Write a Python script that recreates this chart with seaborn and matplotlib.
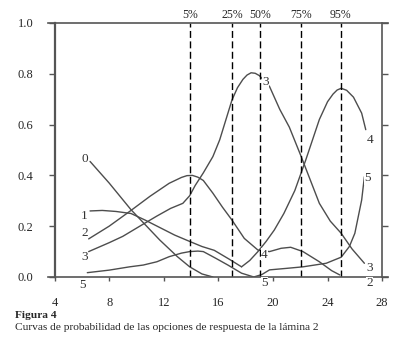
import matplotlib
matplotlib.use("Agg")
import matplotlib.pyplot as plt
import seaborn as sns
import pandas as pd

# curves (score vs. probability)
x0 = [6.6, 8.0, 9.6, 11.7, 13.0, 13.9, 14.8, 15.6]
y0 = [0.455, 0.37, 0.265, 0.146, 0.08, 0.04, 0.012, 0.0]

x1 = [6.6, 7.5, 8.5, 9.6, 10.6, 11.7, 12.8, 13.9, 14.8, 15.7, 16.8, 17.7]
y1 = [0.26, 0.262, 0.258, 0.25, 0.225, 0.195, 0.165, 0.14, 0.12, 0.105, 0.07, 0.04]

x2 = [6.5, 8.0, 9.6, 11.0, 12.4, 13.3, 13.7, 14.1, 14.5, 14.9, 15.6, 16.3,
      17.0, 17.9, 18.9, 19.75, 20.6, 21.3, 22.2, 23.4, 24.3, 24.9]
y2 = [0.15, 0.2, 0.262, 0.318, 0.369, 0.392, 0.399, 0.40, 0.393, 0.38, 0.33,
      0.275, 0.224, 0.152, 0.106, 0.1, 0.113, 0.117, 0.1, 0.06, 0.025, 0.008]

x3 = [6.5, 8.0, 9.0, 10.4, 11.5, 12.5, 13.4, 13.9, 14.3, 14.9, 15.6, 16.1,
      17.0, 17.4, 17.8, 18.1, 18.4, 18.7, 19.0, 19.75, 20.5, 21.2, 22.07,
      23.4, 24.2, 25.0, 25.8, 26.7]
y3 = [0.10, 0.135, 0.16, 0.205, 0.24, 0.27, 0.29, 0.32, 0.36, 0.41, 0.474,
      0.54, 0.697, 0.745, 0.778, 0.795, 0.804, 0.802, 0.793, 0.75, 0.66, 0.59,
      0.474, 0.29, 0.22, 0.172, 0.11, 0.054]

x4 = [17.7, 18.3, 18.9, 19.5, 20.1, 20.8, 21.6, 22.4, 23.4, 24.0, 24.4, 24.7,
      25.0, 25.4, 25.9, 26.5, 26.8]
y4 = [0.04, 0.065, 0.1, 0.14, 0.185, 0.25, 0.34, 0.46, 0.62, 0.69, 0.72,
      0.736, 0.743, 0.735, 0.708, 0.645, 0.58]

x5 = [6.4, 8.0, 9.5, 10.5, 11.5, 12.4, 13.3, 13.9, 14.5, 14.9, 15.8, 16.7,
      17.7, 18.6, 19.2, 19.75, 21.0, 22.2, 23.9, 25.0, 25.6, 26.0, 26.5, 26.7]
y5 = [0.017, 0.027, 0.04, 0.047, 0.06, 0.08, 0.094, 0.1, 0.102, 0.1, 0.074,
      0.047, 0.015, 0.0, 0.01, 0.028, 0.034, 0.04, 0.054, 0.078, 0.12, 0.172,
      0.303, 0.395]

pct_pos = [13.9, 17.0, 19.05, 22.05, 24.97]
pct_labels = ["5%", "25%", "50%", "75%", "95%"]

# curve labels as printed in the figure
lab_text = ["0", "1", "2", "3", "5", "5", "4", "3", "4", "5", "3", "2"]
lab_x = [6.2, 6.2, 6.2, 6.2, 6.07, 19.38, 19.38, 19.46, 27.08, 26.95, 27.08, 27.08]
lab_y = [0.465, 0.24, 0.173, 0.08, -0.031, -0.025, 0.087, 0.767, 0.54, 0.389, 0.034, -0.025]

x_ticks = [4, 8, 12, 16, 20, 24, 28]
y_ticks = [0.0, 0.2, 0.4, 0.6, 0.8, 1.0]

sns.set_style("ticks")
plt.rcParams["font.family"] = ["Liberation Serif", "DejaVu Serif"]

frames = []
for name, xs, ys in [("0", x0, y0), ("1", x1, y1), ("2", x2, y2),
                     ("3", x3, y3), ("4", x4, y4), ("5", x5, y5)]:
    frames.append(pd.DataFrame({"x": xs, "y": ys, "curve": name}))
df = pd.concat(frames, ignore_index=True)

fig = plt.figure(figsize=(4, 3.5), dpi=100)
ax = fig.add_axes([0.121, 0.2086, 0.848, 0.7257])

grey = "#4d4d4d"
sns.lineplot(data=df, x="x", y="y", hue="curve", units="curve",
             palette={k: grey for k in "012345"}, estimator=None, sort=False,
             legend=False, lw=1.0, ax=ax)

for p, t in zip(pct_pos, pct_labels):
    ax.axvline(p, ymin=0, ymax=1, color="black", lw=1.0, ls=(0, (5, 2.5)))
    ax.text(p, 1.03, t, ha="center", va="center", fontsize=8.5, clip_on=False)

for t, lx, ly in zip(lab_text, lab_x, lab_y):
    ax.text(lx, ly, t, ha="center", va="center", fontsize=9.5, color="#333333",
            clip_on=False, zorder=5,
            bbox=dict(facecolor="white", edgecolor="none", pad=0.3))

ax.set_xlim(3.55, 28.4)
ax.set_ylim(0, 1)
ax.spines["left"].set_position(("data", 4))
ax.spines["right"].set_position(("data", 28))
for s in ax.spines.values():
    s.set_color("#555555")
    s.set_linewidth(1.2)
ax.spines["left"].set_linewidth(1.6)

ax.set_xticks(x_ticks)
ax.set_yticks(y_ticks)
ax.set_yticklabels([f"{v:.1f}" for v in y_ticks])
ax.tick_params(axis="y", right=True, direction="out", length=4.5, width=1,
               color="#555555", pad=10.5, labelsize=9)
ax.tick_params(axis="x", direction="out", length=3, width=1,
               color="#555555", pad=11.5, labelsize=9)
ax.set_xlabel("")
ax.set_ylabel("")

fig.text(15 / 400, 1 - 315 / 350, "Figura 4", fontsize=8.2, fontweight="bold",
         ha="left", va="center")
fig.text(15 / 400, 1 - 327 / 350,
         "Curvas de probabilidad de las opciones de respuesta de la lámina 2",
         fontsize=8.2, ha="left", va="center")

fig.savefig("out.png", dpi=100)
